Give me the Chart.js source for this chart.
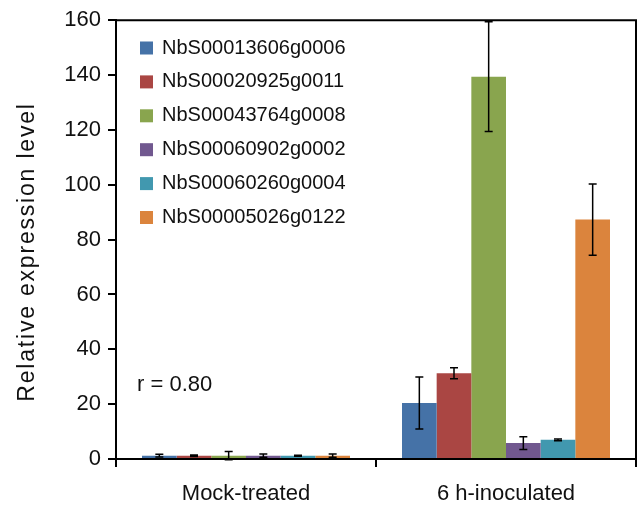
<!DOCTYPE html>
<html><head><meta charset="utf-8">
<script src="https://cdn.jsdelivr.net/npm/chart.js@4/dist/chart.umd.min.js"></script>
<style>html,body{margin:0;padding:0;background:#fff}#wrap{width:642px;height:507px;position:relative}</style>
</head><body><div id="wrap"><canvas id="c" width="642" height="507"></canvas></div>
<script>
const categories = ['Mock-treated', '6 h-inoculated'];
const seriesNames = ['NbS00013606g0006','NbS00020925g0011','NbS00043764g0008','NbS00060902g0002','NbS00060260g0004','NbS00005026g0122'];
const colors = ['#4572A7','#AA4643','#89A54E','#71588F','#4198AF','#DB843D'];
const s1 = [1.2, 20.4], e1 = [0.5, 9.5];
const s2 = [1.2, 31.3], e2 = [0.3, 2.0];
const s3 = [1.2, 139.4], e3 = [1.5, 20.0];
const s4 = [1.2, 5.8], e4 = [0.6, 2.3];
const s5 = [1.2, 7.0], e5 = [0.2, 0.3];
const s6 = [1.2, 87.3], e6 = [0.6, 13.0];
const yTicks = [0,20,40,60,80,100,120,140,160];
const yTitle = 'Relative expression level';
const annotation = 'r = 0.80';
const FONT = "'Liberation Sans', Arial, sans-serif";

const values = [s1,s2,s3,s4,s5,s6];
const errors = [e1,e2,e3,e4,e5,e6];

const extras = {
  id: 'extras',
  afterDatasetsDraw(chart) {
    const ctx = chart.ctx, y = chart.scales.y;
    ctx.save();
    ctx.strokeStyle = '#000'; ctx.lineWidth = 1.5;
    chart.data.datasets.forEach((ds, i) => {
      const meta = chart.getDatasetMeta(i);
      meta.data.forEach((bar, j) => {
        const v = ds.data[j], e = errors[i][j];
        const x = bar.x;
        const yt = y.getPixelForValue(v + e), yb = y.getPixelForValue(v - e);
        ctx.beginPath();
        ctx.moveTo(x, yt); ctx.lineTo(x, yb);
        ctx.moveTo(x - 4, yt); ctx.lineTo(x + 4, yt);
        ctx.moveTo(x - 4, yb); ctx.lineTo(x + 4, yb);
        ctx.stroke();
      });
    });
    ctx.restore();
  },
  afterDraw(chart) {
    const ctx = chart.ctx, a = chart.chartArea;
    ctx.save();
    ctx.strokeStyle = '#000'; ctx.lineWidth = 2;
    ctx.beginPath();
    ctx.moveTo(a.left, a.top); ctx.lineTo(a.right, a.top); ctx.lineTo(a.right, a.bottom);
    ctx.stroke();
    // legend
    ctx.font = '20px ' + FONT;
    ctx.textBaseline = 'middle'; ctx.textAlign = 'left';
    chart.data.datasets.forEach((ds, i) => {
      const cy = 48 + i * 33.9;
      ctx.fillStyle = ds.backgroundColor;
      ctx.fillRect(140, cy - 6.5, 13, 13);
      ctx.fillStyle = '#111';
      ctx.fillText(ds.label, 162, cy);
    });
    ctx.font = '22px ' + FONT;
    ctx.fillStyle = '#111';
    ctx.fillText(annotation, 137, 385);
    // y title
    ctx.translate(28, 252);
    ctx.rotate(-Math.PI / 2);
    ctx.font = '23px ' + FONT;
    if ('letterSpacing' in ctx) ctx.letterSpacing = '1.8px';
    ctx.textAlign = 'center';
    ctx.fillText(yTitle, 0, 0);
    ctx.restore();
  }
};

new Chart(document.getElementById('c'), {
  type: 'bar',
  data: {
    labels: categories,
    datasets: seriesNames.map((n, i) => ({
      label: n, data: values[i], backgroundColor: colors[i], borderWidth: 0,
      categoryPercentage: 0.8, barPercentage: 1.0
    }))
  },
  options: {
    responsive: false, animation: false,
    layout: { padding: { left: 0, right: 6, top: 20, bottom: 0 } },
    plugins: { legend: { display: false }, tooltip: { enabled: false } },
    scales: {
      x: {
        grid: { display: true, drawOnChartArea: false, drawTicks: true, tickLength: 8, color: '#000', lineWidth: 2 },
        border: { display: true, color: '#000', width: 2 },
        ticks: { color: '#111', font: { family: FONT, size: 22 }, padding: 14 },
        afterFit(s) { s.height = 48; }
      },
      y: {
        min: 0, max: 160,
        afterBuildTicks(s) { s.ticks = yTicks.map(v => ({ value: v })); },
        grid: { display: true, drawOnChartArea: false, drawTicks: true, tickLength: 8, color: '#000', lineWidth: 2 },
        border: { display: true, color: '#000', width: 2 },
        ticks: { color: '#111', font: { family: FONT, size: 22 }, padding: 7 },
        afterFit(s) { s.width = 116; }
      }
    }
  },
  plugins: [extras]
});
</script></body></html>
